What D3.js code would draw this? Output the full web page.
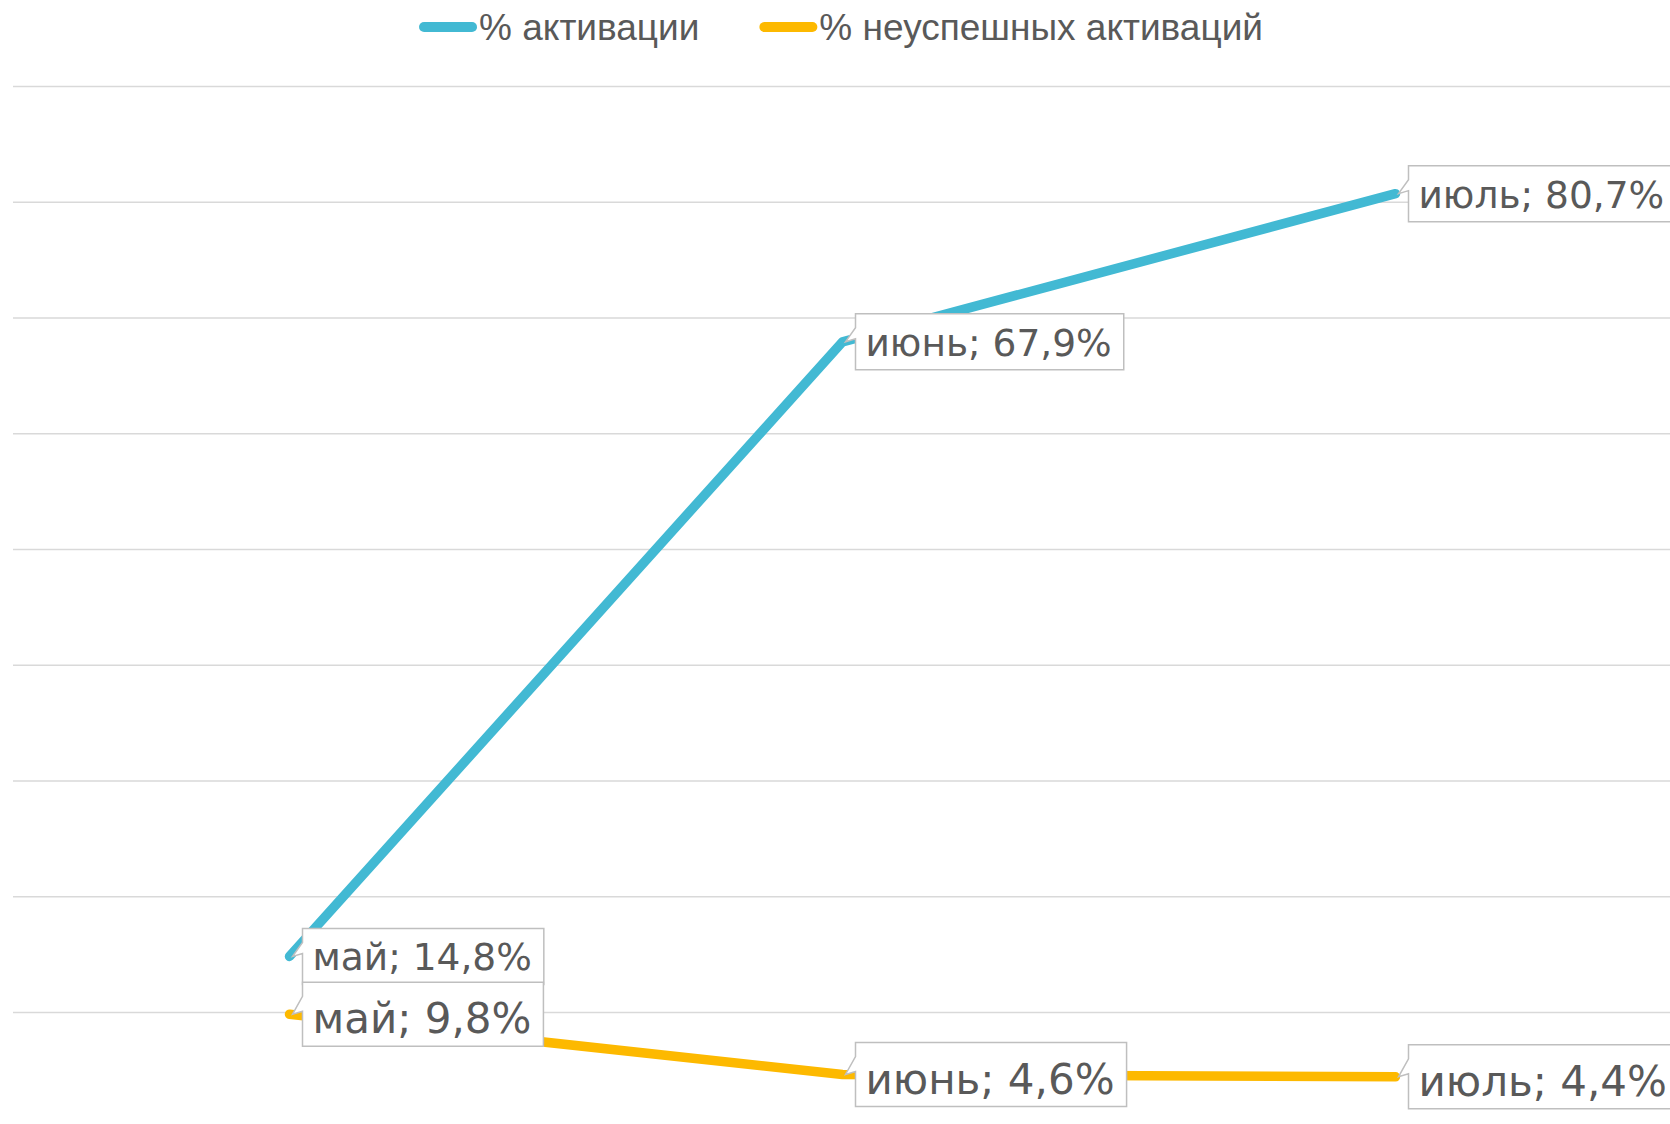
<!DOCTYPE html>
<html>
<head>
<meta charset="utf-8">
<script src="https://cdn.jsdelivr.net/npm/d3@7"></script>
<style>
  html, body { margin: 0; padding: 0; background: #ffffff; }
  svg { display: block; }
</style>
</head>
<body>
<script>
// ---- data ----
const categories = ["май", "июнь", "июль"];
const activation = [14.8, 67.9, 80.7];
const failedActivation = [9.8, 4.6, 4.4];
const seriesNames = ["% активации", "% неуспешных активаций"];
const yTicks = [10, 20, 30, 40, 50, 60, 70, 80, 90];

// ---- layout ----
const W = 1670, H = 1124;
const plotLeft = 13, plotRight = 1672;
const colors = ["#42B9D3", "#FDB900"];
const textColor = "#595959";

const svg = d3.select("body").append("svg").attr("width", W).attr("height", H);
svg.append("rect").attr("width", W).attr("height", H).attr("fill", "#fff");

const x = d3.scalePoint().domain(categories).range([plotLeft, plotRight]).padding(0.5);
const y = d3.scaleLinear().domain([0, 90]).range([1127.75, 86]);

// gridlines
const grid = svg.append("g").attr("transform", `translate(${plotLeft},0)`)
  .call(d3.axisLeft(y).tickValues(yTicks).tickSize(-(plotRight - plotLeft)).tickFormat(""));
grid.select(".domain").remove();
grid.selectAll(".tick line").attr("stroke", "#D9D9D9").attr("stroke-width", 1.5);

const series = [
  { name: seriesNames[0], values: activation, color: colors[0], fs: 37.5, boxUp: 28, boxH: 56, base: 42 },
  { name: seriesNames[1], values: failedActivation, color: colors[1], fs: 42, boxUp: 32, boxH: 64, base: 51 }
];

const line = d3.line().x((d, i) => x(categories[i])).y(d => y(d));

// lines
series.slice().reverse().forEach(s => {
  svg.append("path").datum(s.values)
    .attr("d", line)
    .attr("fill", "none")
    .attr("stroke", s.color)
    .attr("stroke-width", 9.5)
    .attr("stroke-linecap", "round")
    .attr("stroke-linejoin", "round");
});

// data label callouts
const fmt = v => d3.format(".1f")(v).replace(".", ",");
series.forEach(s => {
  s.values.forEach((v, i) => {
    const px = x(categories[i]), py = y(v);
    const g = svg.append("g");
    const left = px + 13, top = py - s.boxUp;
    const path = g.append("path");
    const t = g.append("text")
      .attr("x", left + 10).attr("y", top + s.base)
      .attr("font-family", "'DejaVu Sans', Verdana, sans-serif")
      .attr("font-size", s.fs)
      .attr("fill", textColor)
      .text(`${categories[i]}; ${fmt(v)}%`);
    const tw = t.node().getComputedTextLength();
    const right = left + tw + 22, bottom = top + s.boxH;
    const tipX = px + 3, tipY = py;
    path.attr("d", `M${left},${top}H${right}V${bottom}H${left}V${py - 3}L${tipX},${tipY}L${left},${top + 14}Z`)
      .attr("fill", "#fff")
      .attr("stroke", "#BFBFBF")
      .attr("stroke-width", 1.5)
      .attr("stroke-linejoin", "miter");
  });
});

// legend
const legend = svg.append("g");
const markerLen = 58, gapAfterMarker = 2, itemGap = 60;
let cx = 0;
series.forEach((s, i) => {
  const g = legend.append("g");
  g.append("line")
    .attr("x1", cx + 5).attr("x2", cx + markerLen - 5)
    .attr("y1", 27).attr("y2", 27)
    .attr("stroke", s.color).attr("stroke-width", 10).attr("stroke-linecap", "round");
  const t = g.append("text")
    .attr("x", cx + markerLen + gapAfterMarker).attr("y", 40)
    .attr("font-family", "'Liberation Sans', Arial, sans-serif")
    .attr("font-size", 37)
    .attr("fill", textColor)
    .text(s.name);
  const tw = t.node().getComputedTextLength();
  cx += markerLen + gapAfterMarker + tw + itemGap;
});
const totalW = cx - itemGap;
legend.attr("transform", `translate(${841 - totalW / 2},0)`);
</script>
</body>
</html>
